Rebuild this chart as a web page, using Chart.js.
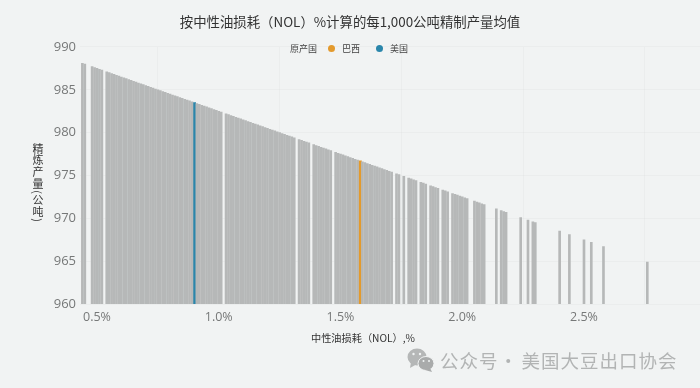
<!DOCTYPE html>
<html><head><meta charset="utf-8">
<style>
html,body{margin:0;padding:0;background:#f1f3f3;width:700px;height:388px;overflow:hidden}
#wrap{position:relative;width:700px;height:388px}
canvas{display:block}
.t{position:absolute;white-space:nowrap;font-family:"Noto Sans CJK SC","Noto Sans",sans-serif}
.dot{position:absolute;width:7px;height:7px;border-radius:50%}
</style>
</head><body>
<div id="wrap">
<canvas id="c" width="700" height="388"></canvas>
<div class="t" style="left:290px;top:42px;font-size:9px;line-height:13px;color:#444">原产国</div>
<div class="dot" id="dotB" style="left:327.5px;top:45px"></div>
<div class="t" style="left:342px;top:42px;font-size:9px;line-height:13px;color:#444">巴西</div>
<div class="dot" id="dotU" style="left:375.5px;top:45px"></div>
<div class="t" style="left:390px;top:42px;font-size:9px;line-height:13px;color:#444">美国</div>
<div class="t" style="left:32px;top:143px;font-size:11px;line-height:12px;color:#333;writing-mode:vertical-rl;text-orientation:mixed;letter-spacing:0.8px">精炼产量(公吨)</div>
<div class="t" id="xTitle" style="left:311px;top:331px;font-size:10.2px;line-height:14px;color:#333"></div>
<svg style="position:absolute;left:406px;top:347px" width="30" height="26" viewBox="0 0 30 26">
<ellipse cx="11" cy="10" rx="9.5" ry="8.5" fill="#b5b7b7"/><path d="M5 15 L4 21 L11 17Z" fill="#b5b7b7"/>
<ellipse cx="20" cy="16.5" rx="8" ry="7" fill="#a9abab" stroke="#f1f3f3"/><path d="M24 21 L26 25 L19 23Z" fill="#a9abab"/>
<circle cx="7.5" cy="7" r="1.2" fill="#f1f3f3"/><circle cx="14" cy="7" r="1.2" fill="#f1f3f3"/>
<circle cx="17.5" cy="14" r="1" fill="#f1f3f3"/><circle cx="23" cy="14" r="1" fill="#f1f3f3"/>
</svg>
<div class="t" style="left:440px;top:348px;font-size:18.5px;line-height:24px;color:#b2b4b4;letter-spacing:1px">公众号</div>
<div class="t" style="left:499px;top:348px;font-size:18.5px;line-height:24px;color:#b2b4b4">·</div>
<div class="t" style="left:521.5px;top:348px;font-size:18.5px;line-height:24px;color:#b2b4b4;letter-spacing:1px">美国大豆出口协会</div>
</div>
<script src="https://cdn.jsdelivr.net/npm/chart.js@4"></script>
<script>
const chartTitle = "按中性油损耗（NOL）%计算的每1,000公吨精制产量均值";
const xAxisTitle = "中性油损耗（NOL）,%";
const yTicks = [960,965,970,975,980,985,990];
const xTicks = [0.5,1.0,1.5,2.0,2.5];
const brazilNol = [1.58], brazilYield = [976.7];
const usaNol = [0.90], usaYield = [983.5];
const otherNol = [0.44,0.45,0.48,0.49,0.50,0.51,0.52,
0.54,0.55,0.56,0.57,0.58,0.59,0.60,0.61,0.62,0.63,0.64,0.65,0.66,0.67,0.68,0.69,0.70,0.71,0.72,0.73,0.74,0.75,0.76,0.77,0.78,0.79,0.80,0.81,0.82,0.83,0.84,0.85,0.86,0.87,0.88,0.89,0.91,0.92,0.93,0.94,0.95,0.96,0.97,0.98,0.99,1.00,1.01,
1.03,1.04,1.05,1.06,1.07,1.08,1.09,1.10,1.11,1.12,1.13,1.14,1.15,1.16,1.17,1.18,1.19,1.20,1.21,1.22,1.23,1.24,1.25,1.26,1.27,1.28,1.29,1.30,1.31,
1.33,1.34,1.35,1.36,1.37,
1.39,1.40,1.41,1.42,1.43,1.44,1.45,1.46,
1.48,1.49,1.50,1.51,1.52,1.53,1.54,1.55,1.56,1.57,1.59,1.60,1.61,1.62,1.63,1.64,1.65,1.66,1.67,1.68,1.69,1.70,1.71,
1.73,1.74,1.76,1.78,1.79,1.80,1.81,1.83,1.84,1.85,1.87,1.88,1.89,1.90,1.92,1.93,1.94,
1.96,1.97,1.98,1.99,2.00,2.01,2.02,
2.05,2.06,2.07,2.08,2.09,2.14,2.16,2.17,2.18,2.24,2.27,2.29,2.30,2.40,2.44,2.50,2.53,2.58,2.76];
const otherYield = [988.1,988.0,987.7,987.6,987.5,987.4,987.3,
987.1,987.0,986.9,986.8,986.7,986.6,986.5,986.4,986.3,986.2,986.1,986.0,985.9,985.8,985.7,985.6,985.5,985.4,985.3,985.2,985.1,985.0,984.9,984.8,984.7,984.6,984.5,984.4,984.3,984.2,984.1,984.0,983.9,983.8,983.7,983.6,983.4,983.3,983.2,983.1,983.0,982.9,982.8,982.7,982.6,982.5,982.4,
982.2,982.1,982.0,981.9,981.8,981.7,981.6,981.5,981.4,981.3,981.2,981.1,981.0,980.9,980.8,980.7,980.6,980.5,980.4,980.3,980.2,980.1,980.0,979.9,979.8,979.7,979.6,979.5,979.4,
979.2,979.1,979.0,978.9,978.8,
978.6,978.5,978.4,978.3,978.2,978.1,978.0,977.9,
977.7,977.6,977.5,977.4,977.3,977.2,977.1,977.0,976.9,976.8,976.6,976.5,976.4,976.3,976.2,976.1,976.0,975.9,975.8,975.7,975.6,975.5,975.4,
975.2,975.1,974.9,974.7,974.6,974.5,974.4,974.2,974.1,974.0,973.8,973.7,973.6,973.5,973.3,973.2,973.1,
972.9,972.8,972.7,972.6,972.5,972.4,972.3,
972.0,971.9,971.8,971.7,971.6,971.1,970.9,970.8,970.7,970.1,969.8,969.6,969.5,968.5,968.1,967.5,967.2,966.7,964.9];
const GRAY="#b6b8b8", BLUE="#2a86ab", ORANGE="#e39a2d";
const xy=(a,b)=>a.map((v,i)=>({x:v,y:b[i]}));
document.getElementById('dotB').style.background=ORANGE;
document.getElementById('dotU').style.background=BLUE;
document.getElementById('xTitle').textContent=xAxisTitle;
const barW=2.0;
new Chart(document.getElementById('c'),{
 type:'bar',
 data:{datasets:[
  {label:'其他',data:xy(otherNol,otherYield),backgroundColor:GRAY,barThickness:barW,grouped:false},
  {label:'巴西',data:xy(brazilNol,brazilYield),backgroundColor:ORANGE,barThickness:3,grouped:false},
  {label:'美国',data:xy(usaNol,usaYield),backgroundColor:BLUE,barThickness:2.6,grouped:false}
 ]},
 options:{
  responsive:false,animation:false,
  layout:{padding:0},
  plugins:{legend:{display:false},tooltip:{enabled:false},
   title:{display:true,text:chartTitle,color:'#333',font:{family:'"Noto Sans CJK SC"',size:13.4,weight:'normal'},padding:{top:14,bottom:16.9}}},
  scales:{
   x:{type:'linear',offset:false,min:0.4302,max:2.9764,
     afterBuildTicks:s=>{s.ticks=xTicks.map(v=>({value:v}));},
     afterFit:s=>{s.height=84;},
     grid:{color:'rgba(0,0,0,0.022)',drawTicks:false},border:{display:false},
     ticks:{padding:6,color:'#767878',font:{family:'"Open Sans"',size:12.5},maxRotation:0,autoSkip:false,callback:v=>v.toFixed(1)+'%'}},
   y:{min:960,max:990,
     afterBuildTicks:s=>{s.ticks=yTicks.map(v=>({value:v}));},
     grid:{color:'rgba(0,0,0,0.022)',drawTicks:false},border:{display:false},
     afterFit:s=>{s.width=80;},
     ticks:{padding:4,color:'#767878',font:{family:'"Open Sans"',size:13}}}
  }
 }
});
</script>
</body></html>
